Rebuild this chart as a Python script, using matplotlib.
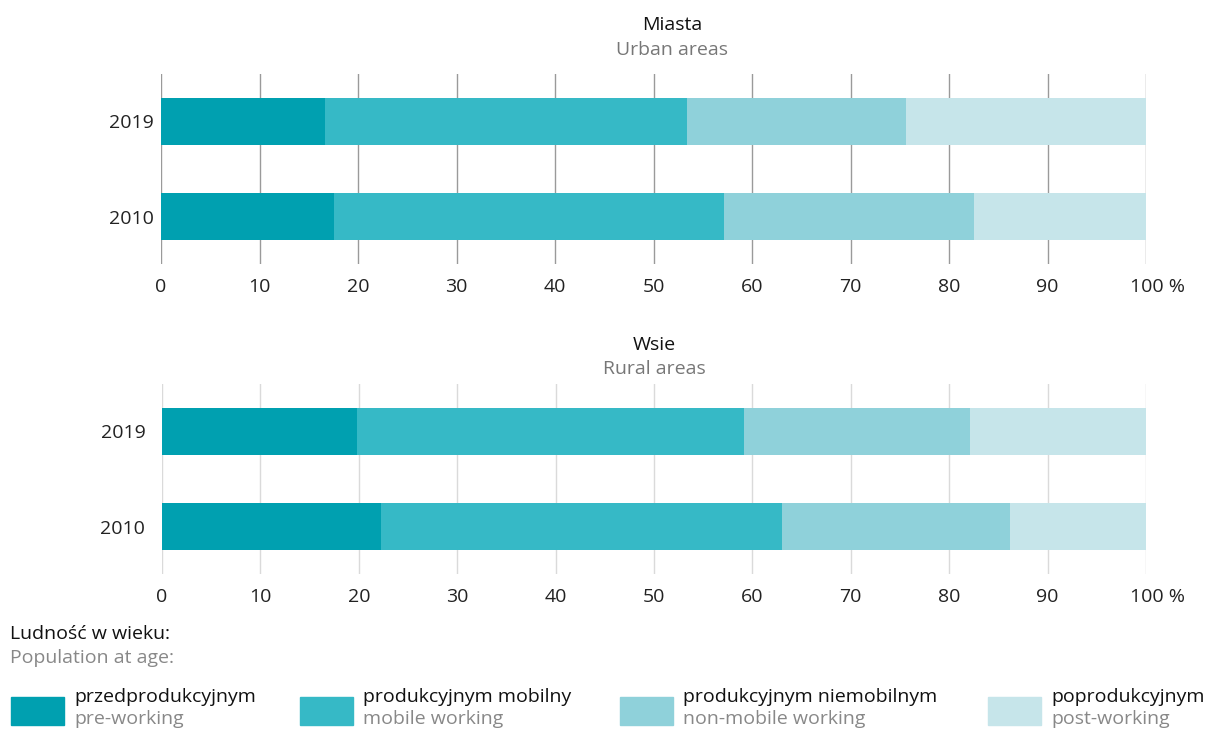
import matplotlib
matplotlib.use("Agg")
import matplotlib.pyplot as plt
from matplotlib.patches import Rectangle
from matplotlib.transforms import ScaledTranslation

plt.rcParams['font.family'] = ['Open Sans', 'DejaVu Sans']

years = ["2010", "2019"]
series_pl = ["przedprodukcyjnym", "produkcyjnym mobilny", "produkcyjnym niemobilnym", "poprodukcyjnym"]
series_en = ["pre-working", "mobile working", "non-mobile working", "post-working"]
colors = ["#00A0B0", "#36B9C6", "#8FD1DA", "#C6E5EA"]

# values per year (2010, 2019)
urban_pre = [17.6, 16.7]
urban_mob = [39.6, 36.7]
urban_nonmob = [25.3, 22.2]
urban_post = [17.5, 24.4]

rural_pre = [22.3, 19.8]
rural_mob = [40.7, 39.3]
rural_nonmob = [23.2, 23.0]
rural_post = [13.8, 17.9]

xticks = [0, 10, 20, 30, 40, 50, 60, 70, 80, 90, 100]
xticklabels = ["0", "10", "20", "30", "40", "50", "60", "70", "80", "90", "100 %"]

W, H = 1213, 732
FS = 14
fig = plt.figure(figsize=(W / 100, H / 100), dpi=100)


def draw(ax, data, gridcolor, ypad):
    left = [0.0] * len(years)
    for vals, c in zip(data, colors):
        ax.barh(range(len(years)), vals, left=left, height=0.505, color=c, zorder=3)
        left = [l + v for l, v in zip(left, vals)]
    ax.set_xlim(0, 100)
    ax.set_ylim(-0.5, 1.5)
    ax.set_yticks(range(len(years)))
    ax.set_yticklabels(years, fontsize=FS, color="#222222")
    ax.set_xticks(xticks)
    ax.set_xticklabels(xticklabels, fontsize=FS, color="#222222")
    ax.tick_params(axis="x", length=0, pad=10)
    ax.tick_params(axis="y", length=0, pad=ypad)
    last = ax.get_xticklabels()[-1]
    last.set_transform(last.get_transform() + ScaledTranslation(0.12, 0, fig.dpi_scale_trans))
    for t in xticks:
        ax.axvline(t, color=gridcolor, lw=1.0, zorder=1)
    for s in ax.spines.values():
        s.set_visible(False)


ax1 = fig.add_axes([161 / W, 1 - 264 / H, 985 / W, 190 / H])
draw(ax1, [urban_pre, urban_mob, urban_nonmob, urban_post], "#9a9a9a", 5)
ax2 = fig.add_axes([162 / W, 1 - 574 / H, 984 / W, 190 / H])
draw(ax2, [rural_pre, rural_mob, rural_nonmob, rural_post], "#dadada", 12)

fig.text(672 / W, 1 - 25 / H, "Miasta", ha="center", va="center", fontsize=FS, color="#111111")
fig.text(672 / W, 1 - 50 / H, "Urban areas", ha="center", va="center", fontsize=FS, color="#777777")
fig.text(654 / W, 1 - 345 / H, "Wsie", ha="center", va="center", fontsize=FS, color="#111111")
fig.text(654 / W, 1 - 369 / H, "Rural areas", ha="center", va="center", fontsize=FS, color="#777777")

fig.text(10 / W, 1 - 634 / H, "Ludność w wieku:", ha="left", va="center", fontsize=FS, color="#111111")
fig.text(10 / W, 1 - 658 / H, "Population at age:", ha="left", va="center", fontsize=FS, color="#888888")

patch_x = [11, 300, 620, 988]
for px, c, pl, en in zip(patch_x, colors, series_pl, series_en):
    fig.patches.append(Rectangle((px / W, 1 - 725 / H), 53 / W, 28 / H, transform=fig.transFigure,
                                 color=c, figure=fig))
    fig.text((px + 63) / W, 1 - 697 / H, pl, ha="left", va="center", fontsize=FS, color="#111111")
    fig.text((px + 63) / W, 1 - 719 / H, en, ha="left", va="center", fontsize=FS, color="#888888")

fig.savefig("out.png", dpi=100)
